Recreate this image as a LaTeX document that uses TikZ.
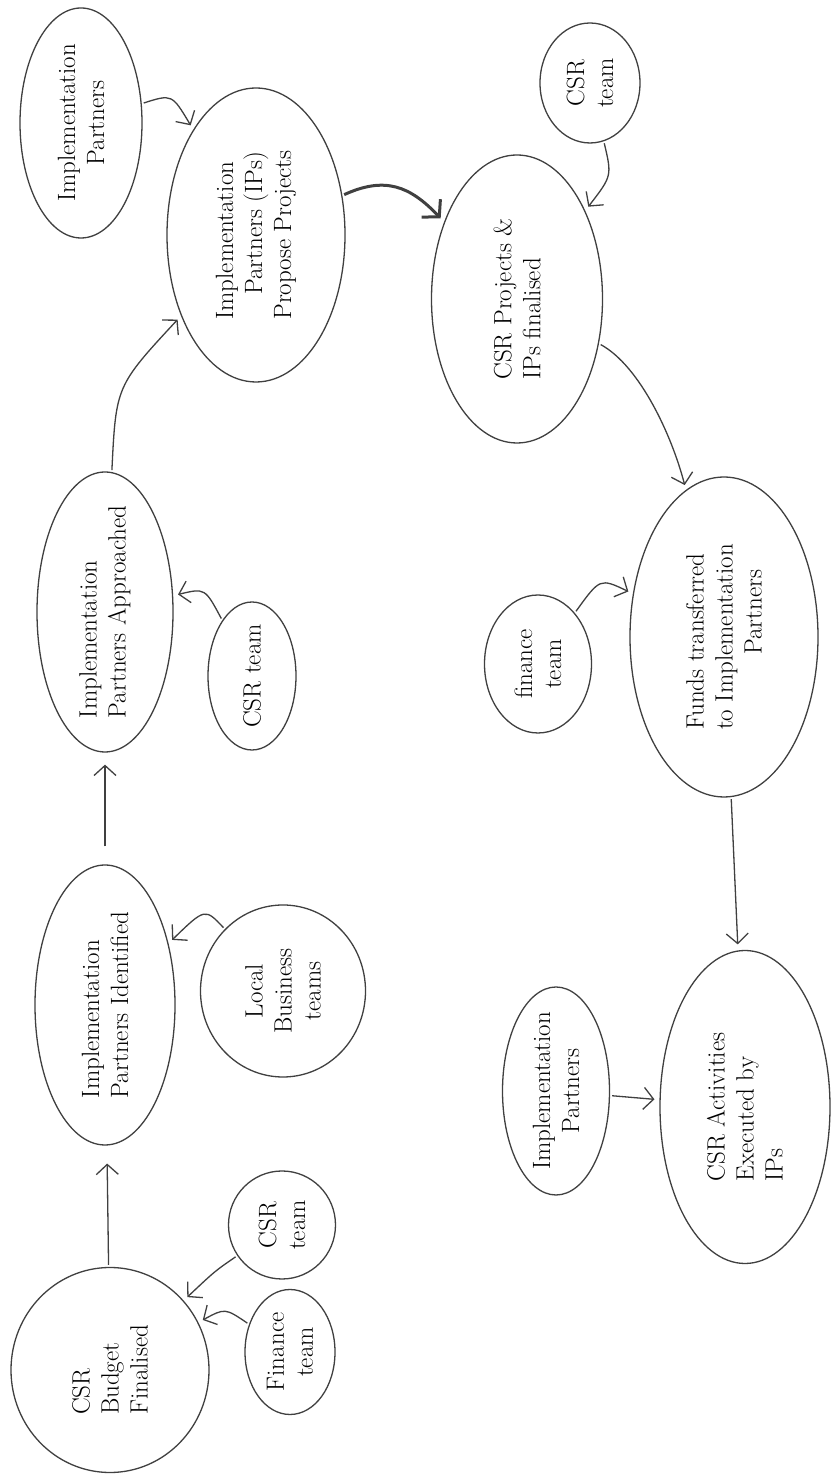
\documentclass[tikz,border=0pt]{standalone}
\usepackage{tikz}
\usetikzlibrary{shapes.geometric, arrows.meta}

\begin{document}
\begin{tikzpicture}[x=1pt, y=1pt, line width=1.3pt, >={Straight Barb[length=10pt,width=22pt]},
		stage node/.style={ellipse, draw=black!75, rotate=90, align=left, inner sep=-8pt, font=\fontsize{25}{29}\selectfont},
		team node/.style={stage node, align=center},
		link/.style={->, draw=black!75, shorten >=5pt, shorten <=2pt}]
		
		\useasboundingbox[fill=white] (0,0) rectangle (833,1476);
		
		% Nodes
		\node[stage node, minimum width=205pt, minimum height=198pt] (budget) at (110,106) {CSR\\Budget\\Finalised};
		\node[team node, minimum width=108pt, minimum height=107pt] (csrA) at (282,251) {CSR\\team};
		\node[team node, minimum width=125pt, minimum height=90pt] (finA) at (290,124) {Finance\\team};
		\node[stage node, minimum width=280pt, minimum height=140pt] (ident) at (105,471) {Implementation\\Partners Identified};
		\node[team node, minimum width=172pt, minimum height=165pt] (local) at (283,485) {Local\\Business\\teams};
		\node[stage node, minimum width=280pt, minimum height=136pt] (approach) at (105,864) {Implementation\\Partners Approached};
		\node[team node, minimum width=148pt, minimum height=88pt] (csrB) at (252,800) {CSR team};
		\node[team node, minimum width=230pt, minimum height=122pt] (ipA) at (81,1353) {Implementation\\Partners};
		\node[stage node, minimum width=294pt, minimum height=178pt] (propose) at (256,1241) {Implementation\\\quad Partners (IPs)\\Propose Projects};
		\node[team node, minimum width=120pt, minimum height=100pt] (csrC) at (590,1393) {CSR\\team};
		\node[stage node, minimum width=288pt, minimum height=171pt] (final) at (517,1177) {CSR Projects \&\\IPs finalised};
		\node[team node, minimum width=138pt, minimum height=107pt] (finB) at (538,812) {finance\\team};
		\node[stage node, minimum width=320pt, minimum height=188pt] (funds) at (724,839) {Funds transferred\\to Implementation\\\qquad\quad Partners};
		\node[team node, minimum width=208pt, minimum height=107pt] (ipB) at (556,385) {Implementation\\Partners};
		\node[stage node, minimum width=313pt, minimum height=170pt] (exec) at (745,369) {CSR Activities\\Executed by\\IPs};
		
		% Edges (left column, going up)
		\draw[link, shorten >=18pt] (budget) -- (ident);
		\draw[link] (csrA) .. controls (215,205) .. (budget);
		\draw[link] (finA) .. controls (225,168) .. (budget);
		\draw[link, shorten <=18pt, shorten >=12pt] (ident) -- (approach);
		\draw[link] (local) .. controls (205,568) .. (ident);
		\draw[link] (approach) .. controls (116,1090) .. (propose);
		\draw[link] (csrB) .. controls (205,888) .. (approach);
		\draw[link] (ipA) .. controls (172,1382) .. (propose);
		
		% Edges (right column, going down)
		\draw[link, line width=3pt, >={Straight Barb[length=12pt,width=26pt]}] (propose) .. controls (385,1300) and (410,1290) .. (final);
		\draw[link] (csrC) .. controls (612,1300) .. (final);
		\draw[link] (final) .. controls (640,1110) and (672,1040) .. (funds);
		\draw[link] (finB) .. controls (600,898) .. (funds);
		\draw[link, shorten >=6pt] (funds) -- (exec);
		\draw[link] (ipB) -- (exec);
	\end{tikzpicture}
\end{document}
